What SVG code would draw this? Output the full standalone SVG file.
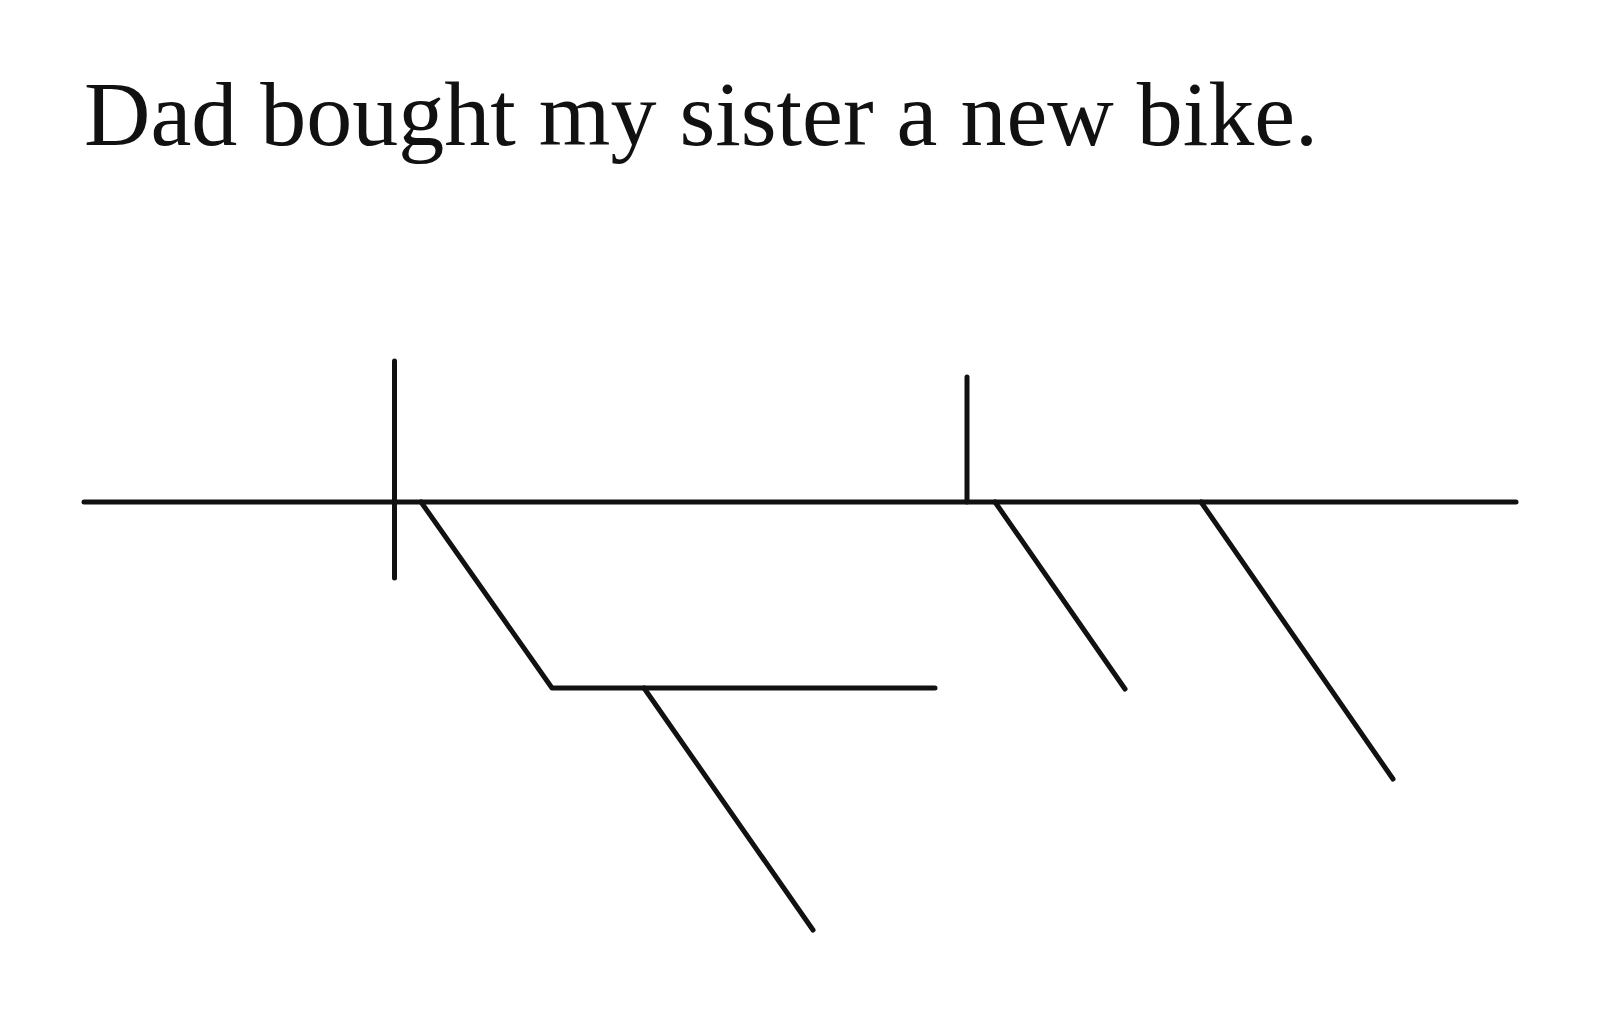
<svg xmlns="http://www.w3.org/2000/svg" width="1600" height="1016" viewBox="0 0 1600 1016">
<style>
.ln{stroke:#111;stroke-width:5;stroke-linecap:round;stroke-linejoin:round;fill:none}
.t{font-family:"Liberation Serif","Times New Roman",serif;font-size:92px;fill:#111}
</style>
<rect width="1600" height="1016" fill="#fff"/>
<g id="sentence"><text class="t" x="84" y="145">Dad bought my sister a new bike.</text></g>
<g id="connectors">
<line class="ln" x1="84" y1="502" x2="1516" y2="502"/>
<line class="ln" x1="394.5" y1="361" x2="394.5" y2="578"/>
<line class="ln" x1="967" y1="377" x2="967" y2="502"/>
<polyline class="ln" points="421,502 552,688 935,688"/>
<line class="ln" x1="644" y1="688" x2="813" y2="930"/>
<line class="ln" x1="995" y1="502" x2="1125" y2="689"/>
<line class="ln" x1="1201" y1="502" x2="1393" y2="779"/>
</g>
</svg>
